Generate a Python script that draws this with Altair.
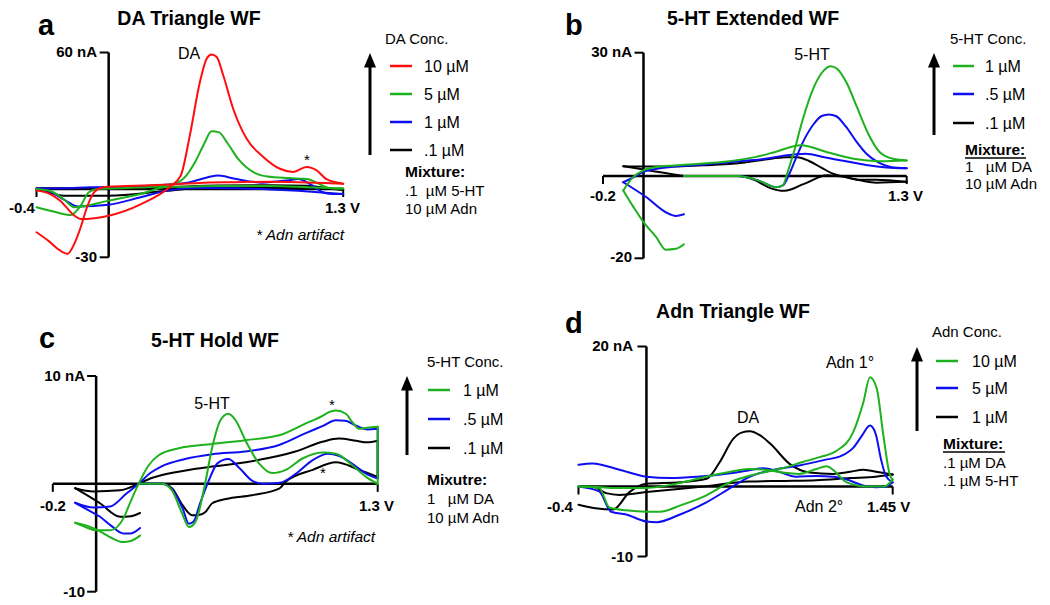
import altair as alt
import pandas as pd

FONT = "Liberation Sans"
RED, GREEN, BLUE, BLACK = "#FF0D0D", "#1DB21D", "#0D0DF2", "#000000"
NB = "\u00a0"

# ---------------- Panel a : DA Triangle WF (V, nA) ----------------
A_RED_V = [-0.40, -0.33, -0.27, -0.19, -0.155, -0.08, 0.00, 0.18, 0.34, 0.40, 0.45, 0.506, 0.543, 0.57, 0.598,
           0.635, 0.69, 0.765, 0.857, 0.949, 1.023, 1.097, 1.153, 1.208, 1.30,
           1.20, 1.05, 0.90, 0.70, 0.50, 0.34, 0.15, 0.00, -0.035, -0.08, -0.12, -0.155, -0.19, -0.229, -0.27, -0.33, -0.40]
A_RED_I = [-0.7, -2.0, -5.0, -11.7, -13.2, -12.8, -11.7, -6.6, 1.0, 6.0, 23.6, 47.1, 57.3, 59.1, 58.1,
           50.0, 35.3, 22.1, 14.1, 8.9, 7.5, 9.7, 8.2, 4.3, 2.3,
           2.6, 3.0, 3.2, 3.0, 2.7, 2.0, 1.4, 1.0, 0.7, -1.4, -8.0, -16.8, -24.0, -28.5, -27.0, -23.0, -19.0]
A_GRN_V = [-0.40, -0.30, -0.21, -0.155, -0.11, -0.06, 0.10, 0.25, 0.35, 0.42, 0.48, 0.53, 0.57, 0.61, 0.66, 0.72,
           0.80, 0.88, 1.00, 1.10, 1.16, 1.22, 1.30,
           1.10, 0.90, 0.60, 0.40, 0.32, 0.177, 0.00, -0.19, -0.25, -0.32, -0.40]
A_GRN_I = [-8.0, -10.0, -11.4, -7.3, -1.4, 0.0, 0.5, 1.0, 2.0, 5.0, 12.0, 20.0, 25.4, 25.0, 20.0, 13.0,
           7.5, 5.5, 4.8, 4.4, 2.5, 0.5, 0.2,
           0.8, 1.3, 1.3, 1.0, 0.9, -2.2, -5.1, -8.0, -4.4, -1.0, 0.0]
A_BLU_V = [-0.40, -0.25, -0.10, 0.10, 0.30, 0.45, 0.55, 0.61, 0.70, 0.85, 1.00, 1.05, 1.12, 1.18, 1.24, 1.30,
           1.20, 1.05, 0.90, 0.70, 0.50, 0.325, 0.177, 0.00, -0.17, -0.25, -0.33, -0.40]
A_BLU_I = [0.2, 0.3, 0.8, 1.0, 1.8, 3.0, 5.2, 5.9, 4.5, 2.8, 3.9, 4.4, 2.0, -1.2, -2.2, -2.2,
           -1.6, -0.8, -0.2, 0.3, 0.4, -0.7, -3.6, -6.9, -7.7, -4.5, -1.0, 0.0]
A_BLK_V = [-0.40, -0.20, 0.00, 0.30, 0.60, 0.90, 1.10, 1.20, 1.30,
           1.10, 0.80, 0.50, 0.30, 0.00, -0.25, -0.33, -0.40]
A_BLK_I = [0.3, 0.3, 0.4, 0.8, 1.5, 1.7, 1.4, 0.5, -0.3,
           0.4, 0.7, 0.4, -1.0, -2.9, -2.9, -1.5, 0.0]

# ---------------- Panel b : 5-HT Extended WF ----------------
B_GRN_V = [0.20, 0.468, 0.566, 0.655, 0.688, 0.712, 0.745, 0.785, 0.842, 0.891, 0.924, 0.956, 1.005, 1.054,
           1.11, 1.167, 1.233, 1.30,
           1.167, 1.037, 0.907, 0.777, 0.647, 0.55, 0.387, 0.224, 0.062, 0.00, -0.05, -0.10,
           -0.05, 0.00, 0.062, 0.11, 0.16, 0.20]
B_GRN_I = [0.0, 0.0, -1.05, -2.7, -2.3, 1.0, 6.2, 13.5, 21.7, 25.7, 26.7, 26.1, 22.5, 16.8,
           10.3, 5.8, 4.2, 3.8,
           3.6, 4.2, 5.8, 7.5, 5.8, 4.6, 3.4, 2.8, 2.2, 1.4, -0.2, -3.5,
           -7.5, -11.2, -14.8, -17.9, -17.7, -16.6]
B_BLU_V = [0.20, 0.468, 0.566, 0.655, 0.69, 0.72, 0.75, 0.79, 0.84, 0.88, 0.915, 0.95, 1.00, 1.05, 1.10,
           1.16, 1.22, 1.30,
           1.20, 1.10, 1.00, 0.90, 0.80, 0.70, 0.60, 0.50, 0.30, 0.10, 0.00, -0.05, -0.10,
           0.013, 0.11, 0.16, 0.20]
B_BLU_I = [0.0, 0.0, -1.05, -2.7, -2.2, 0.5, 4.0, 8.5, 12.6, 14.6, 15.0, 14.6, 12.0, 8.5, 5.5,
           3.3, 2.2, 1.9,
           2.1, 2.7, 3.6, 4.5, 5.4, 5.0, 4.2, 3.7, 2.8, 2.0, 1.0, -0.3, -1.5,
           -5.1, -8.8, -9.7, -9.3]
B_BLK_V = [0.20, 0.468, 0.55, 0.62, 0.696, 0.793, 0.907, 0.99, 1.07, 1.15, 1.30,
           1.15, 1.07, 0.99, 0.94, 0.88, 0.82, 0.76, 0.70, 0.60, 0.50, 0.30, 0.10, 0.00, -0.10,
           0.00, 0.10, 0.20]
B_BLK_I = [0.0, 0.0, -1.0, -2.8, -3.6, -1.9, 0.2, -0.2, -1.05, -1.6, -1.4,
           -0.9, -0.9, -0.1, 0.5, 2.0, 3.6, 4.6, 4.6, 4.0, 3.3, 2.6, 2.3, 2.3, 2.4,
           1.6, 0.8, 0.0]

# ---------------- Panel c : 5-HT Hold WF ----------------
C_GRN_V = [0.196, 0.304, 0.35, 0.397, 0.428, 0.459, 0.497, 0.536, 0.574, 0.61, 0.644, 0.69, 0.752, 0.814,
           0.875, 0.953, 1.045, 1.107, 1.184, 1.246, 1.30,
           1.30, 1.25, 1.215, 1.18, 1.153, 1.107, 1.07, 1.045, 0.968, 0.845, 0.69, 0.536, 0.381, 0.289,
           0.242, 0.196, 0.16, 0.126, 0.065, 0.00, -0.05, -0.097,
           -0.04, 0.018, 0.07, 0.126, 0.16, 0.203]
C_GRN_I = [0.0, 0.0, -0.6, -2.75, -4.0, -3.5, -0.6, 3.4, 5.9, 6.5, 5.9, 4.0, 1.9, 1.0,
           1.3, 2.35, 2.9, 2.8, 1.7, 0.65, 0.0,
           5.3, 5.2, 5.1, 5.8, 6.5, 6.8, 6.6, 6.3, 5.6, 4.5, 4.05, 3.7, 3.3, 2.65,
           1.7, 0.0, -1.6, -3.2, -4.3, -4.3, -4.0, -3.6,
           -3.9, -4.4, -5.0, -5.4, -5.3, -4.8]
C_BLU_V = [0.196, 0.304, 0.35, 0.40, 0.428, 0.45, 0.48, 0.52, 0.56, 0.61, 0.66, 0.72, 0.77, 0.85, 0.92,
           1.00, 1.07, 1.12, 1.20, 1.25, 1.30,
           1.30, 1.25, 1.20, 1.15, 1.107, 1.05, 0.968, 0.845, 0.69, 0.536, 0.41, 0.30, 0.25, 0.196,
           0.14, 0.065, -0.012, -0.097,
           -0.04, 0.018, 0.07, 0.126, 0.16, 0.203]
C_BLU_I = [0.0, 0.0, -0.5, -2.3, -3.7, -3.5, -1.8, 0.3, 1.9, 2.3, 1.5, 0.3, 0.0, 0.1, 0.9,
           2.2, 2.8, 2.6, 1.6, 0.9, 0.5,
           5.1, 5.05, 5.4, 5.85, 5.9, 5.4, 4.7, 3.6, 3.0, 2.75, 2.3, 1.6, 1.0, 0.0,
           -0.9, -2.1, -2.2, -1.75,
           -2.4, -3.05, -3.9, -4.6, -4.6, -4.1]
C_BLK_V = [0.196, 0.304, 0.35, 0.40, 0.443, 0.47, 0.505, 0.536, 0.60, 0.72, 0.845, 0.875, 1.00, 1.107,
           1.215, 1.30,
           1.30, 1.25, 1.20, 1.12, 1.045, 0.92, 0.69, 0.46, 0.30, 0.25, 0.196, 0.111, -0.012, -0.097,
           0.018, 0.111, 0.16, 0.203]
C_BLK_I = [0.0, 0.0, -0.4, -2.0, -2.9, -2.9, -2.6, -1.8, -1.4, -1.05, -0.45, 0.2, 1.3, 2.0,
           1.3, 0.65,
           4.0, 3.85, 4.0, 4.2, 3.9, 3.0, 2.0, 1.4, 0.8, 0.5, 0.0, -0.6, -0.7, -0.4,
           -1.8, -3.05, -3.0, -2.7]

# ---------------- Panel d : Adn Triangle WF ----------------
D_GRN_V = [-0.40, -0.278, -0.218, -0.12, 0.00, 0.08, 0.20, 0.35, 0.50, 0.65, 0.80, 0.92, 1.02, 1.12, 1.218,
           1.277, 1.316, 1.356, 1.395, 1.434, 1.45,
           1.40, 1.30, 1.18, 1.06, 1.00, 0.90, 0.80, 0.70, 0.60, 0.495, 0.35, 0.198, 0.00, -0.20, -0.34, -0.40]
D_GRN_I = [0.0, -0.2, -3.0, -3.4, -3.6, -3.6, -2.7, -1.3, 0.7, 1.8, 2.6, 3.5, 4.2, 5.1, 7.8,
           12.0, 15.6, 14.0, 7.3, 1.6, 1.0,
           0.0, 0.0, 0.6, 2.9, 2.5, 1.8, 2.0, 2.4, 2.5, 2.1, 1.4, 0.5, -0.2, -0.2, 0.0, 0.0]
D_BLU_V = [-0.40, -0.278, -0.208, -0.119, 0.00, 0.06, 0.198, 0.35, 0.495, 0.60, 0.75, 0.90, 1.05, 1.15,
           1.22, 1.27, 1.316, 1.35, 1.38, 1.41, 1.45,
           1.41, 1.35, 1.27, 1.18, 1.10, 1.00, 0.88, 0.78, 0.69, 0.60, 0.495, 0.30, 0.139, 0.00, -0.159,
           -0.318, -0.40]
D_BLU_I = [0.0, -0.7, -3.6, -4.0, -5.0, -5.1, -4.0, -2.3, -0.2, 1.3, 2.4, 3.0, 3.8, 4.4,
           5.6, 7.3, 8.7, 7.5, 4.0, 1.5, 0.6,
           0.0, -0.1, 0.2, 1.0, 1.4, 1.5, 1.4, 2.1, 2.6, 2.3, 1.9, 1.4, 1.2, 1.4, 2.4,
           3.3, 3.1]
D_BLK_V = [-0.40, -0.30, -0.196, -0.10, 0.00, 0.20, 0.354, 0.432, 0.511, 0.56, 0.609, 0.67, 0.73, 0.845,
           0.96, 1.10, 1.20, 1.277, 1.33, 1.45,
           1.35, 1.20, 1.00, 0.80, 0.60, 0.337, 0.00, -0.159, -0.238, -0.318, -0.40]
D_BLK_I = [-2.6, -3.1, -3.3, -0.8, 0.4, 0.6, 1.1, 3.5, 6.8, 7.7, 7.9, 7.3, 6.1, 3.2,
           2.0, 1.8, 2.1, 2.4, 2.2, 1.7,
           1.4, 1.2, 0.9, 0.8, 0.7, 0.0, -0.8, -1.2, -0.95, 0.0, 0.0]

# legends
A_LEG = ["10 µM", "5 µM", "1 µM", ".1 µM"]
B_LEG = ["1 µM", ".5 µM", ".1 µM"]
C_LEG = ["1 µM", ".5 µM", ".1 µM"]
D_LEG = ["10 µM", "5 µM", "1 µM"]

ONE = alt.Data(values=[{"u": 0}])
ARROW = "M-1,1L0,-1.4L1,1Z"


def seg_frame(vs, cs):
    """Split a voltammogram at potential turning points so each piece is monotone in V."""
    rows, seg, k, n = [], 0, 0, len(vs)
    for i in range(n):
        rows.append({"V": vs[i], "I": cs[i], "seg": seg, "k": k})
        k += 1
        if 0 < i < n - 1:
            d1, d2 = vs[i] - vs[i - 1], vs[i + 1] - vs[i]
            if d1 * d2 <= 0:
                seg, k = seg + 1, 0
                rows.append({"V": vs[i], "I": cs[i], "seg": seg, "k": k})
                k += 1
    return pd.DataFrame(rows)


def domain(v1, p1, v2, p2, start, size):
    k = (p2 - p1) / (v2 - v1)
    a = v1 + (start - p1) / k
    b = v1 + (start + size - p1) / k
    return [min(a, b), max(a, b)]


def build(p):
    ox, oy, W, H = p["ox"], p["oy"], p["w"], p["h"]
    xs = alt.Scale(domain=domain(*p["xa"], ox, W), nice=False, zero=False)
    ys = alt.Scale(domain=domain(*p["ya"], oy, H), nice=False, zero=False)

    def X(v):
        return alt.XDatum(v, type="quantitative", scale=xs, axis=None)

    def Y(v):
        return alt.YDatum(v, type="quantitative", scale=ys, axis=None)

    x0, x1 = p["xr"]
    y0, y1 = p["yr"]
    base = alt.Chart(ONE)
    L = [
        base.mark_rule(color=BLACK, strokeWidth=2.5).encode(x=X(x0), x2=alt.X2Datum(x1), y=Y(0)),
        base.mark_rule(color=BLACK, strokeWidth=2.5).encode(x=X(0), y=Y(y0), y2=alt.Y2Datum(y1)),
    ]
    for yv in (y0, y1):
        L.append(base.mark_rule(color=BLACK, strokeWidth=2, x2Offset=-9).encode(
            x=X(0), x2=alt.X2Datum(0), y=Y(yv)))
    for xv in (x0, x1):
        L.append(base.mark_rule(color=BLACK, strokeWidth=2, y2Offset=8).encode(
            x=X(xv), y=Y(0), y2=alt.Y2Datum(0)))
    for vs, cs, col in p["curves"]:
        L.append(alt.Chart(seg_frame(vs, cs)).mark_line(
            interpolate="monotone", color=col, strokeWidth=2, strokeCap="round", strokeJoin="round").encode(
            x=alt.X("V:Q", scale=xs, axis=None), y=alt.Y("I:Q", scale=ys, axis=None),
            detail="seg:N", order="k:Q"))

    def txt(s, x, y, size, weight="normal", align="left", style="normal"):
        return base.mark_text(text=s, font=FONT, fontSize=size, fontWeight=weight, align=align,
                              baseline="alphabetic", fontStyle=style, color=BLACK).encode(
            x=alt.value(x - ox), y=alt.value(y - oy))

    for t in p["texts"]:
        L.append(txt(*t))
    # legend arrow
    ax, tip, bot = p["arrow"]
    L.append(base.mark_rule(color=BLACK, strokeWidth=3).encode(
        x=alt.value(ax - ox), y=alt.value(tip + 10 - oy), y2=alt.value(bot - oy)))
    L.append(base.mark_point(shape=ARROW, size=144, filled=True, color=BLACK, opacity=1, strokeWidth=0).encode(
        x=alt.value(ax - ox), y=alt.value(tip + 8.4 - oy)))
    # legend swatches
    lx1, lx2, ly, tx = p["leg"]
    for (lbl, col, yy) in zip(p["leg_labels"], p["leg_colors"], ly):
        L.append(base.mark_rule(color=col, strokeWidth=2.5).encode(
            x=alt.value(lx1 - ox), x2=alt.value(lx2 - ox), y=alt.value(yy - oy)))
        L.append(txt(lbl, tx, yy + 6, 16))
    for (ux1, ux2, uy) in p.get("underline", []):
        L.append(base.mark_rule(color=BLACK, strokeWidth=1.3).encode(
            x=alt.value(ux1 - ox), x2=alt.value(ux2 - ox), y=alt.value(uy - oy)))
    return alt.layer(*L).properties(width=W, height=H)


TS = 19.5  # title size
PA = dict(ox=8, oy=8, w=512, h=292,
          xa=(-0.4, 36.5, 1.3, 343.2), ya=(60, 52.5, -30, 257.3), xr=(-0.4, 1.3), yr=(-30, 60),
          curves=[(A_BLK_V, A_BLK_I, BLACK), (A_BLU_V, A_BLU_I, BLUE),
                  (A_GRN_V, A_GRN_I, GREEN), (A_RED_V, A_RED_I, RED)],
          texts=[("a", 38, 35, 29, "bold"),
                 ("DA Triangle WF", 189, 25, TS, "bold", "center"),
                 ("60 nA", 97, 57, 15, "bold", "right"),
                 ("-30", 97, 262, 15, "bold", "right"),
                 ("-0.4", 22, 213, 15, "bold", "center"),
                 ("1.3 V", 325, 213, 15, "bold"),
                 ("DA", 189, 59, 16, "normal", "center"),
                 ("*", 307, 165, 15, "normal", "center"),
                 ("* Adn artifact", 256, 240, 15.5, "normal", "left", "italic"),
                 ("DA Conc.", 385, 44, 15),
                 ("Mixture:", 405, 177, 15.5, "bold"),
                 (".1" + NB + NB + "µM 5-HT", 405, 196, 15),
                 ("10 µM Adn", 405, 214, 15)],
          arrow=(370, 53, 155),
          leg=(390, 412, [66, 94, 122, 150], 424),
          leg_labels=A_LEG, leg_colors=[RED, GREEN, BLUE, BLACK])

PB = dict(ox=520, oy=8, w=522, h=292,
          xa=(-0.2, 603, 1.3, 906.7), ya=(30, 52.7, -20, 258.3), xr=(-0.2, 1.3), yr=(-20, 30),
          curves=[(B_BLK_V, B_BLK_I, BLACK), (B_BLU_V, B_BLU_I, BLUE), (B_GRN_V, B_GRN_I, GREEN)],
          texts=[("b", 565, 35, 29, "bold"),
                 ("5-HT Extended WF", 753, 25, TS, "bold", "center"),
                 ("30 nA", 632, 57, 15, "bold", "right"),
                 ("-20", 632, 262, 15, "bold", "right"),
                 ("-0.2", 603, 201, 15, "bold", "center"),
                 ("1.3 V", 888, 201, 15, "bold"),
                 ("5-HT", 812, 60, 16, "normal", "center"),
                 ("5-HT Conc.", 950, 44, 15),
                 ("Mixture:", 965, 155, 15.5, "bold"),
                 ("1" + NB + NB + NB + "µM DA", 965, 172, 15),
                 ("10 µM Adn", 965, 189, 15)],
          arrow=(934, 53, 135),
          leg=(953, 974, [66, 94, 123], 985),
          leg_labels=B_LEG, leg_colors=[GREEN, BLUE, BLACK],
          underline=[(965, 1026, 158)])

PC = dict(ox=8, oy=300, w=512, h=297,
          xa=(-0.2, 52.8, 1.3, 377.7), ya=(10, 376, -10, 591.7), xr=(-0.2, 1.3), yr=(-10, 10),
          curves=[(C_BLK_V, C_BLK_I, BLACK), (C_BLU_V, C_BLU_I, BLUE), (C_GRN_V, C_GRN_I, GREEN)],
          texts=[("c", 39, 348, 29, "bold"),
                 ("5-HT Hold WF", 215, 347, TS, "bold", "center"),
                 ("10 nA", 85, 381, 15, "bold", "right"),
                 ("-10", 85, 597, 15, "bold", "right"),
                 ("-0.2", 53, 511, 15, "bold", "center"),
                 ("1.3 V", 359, 511, 15, "bold"),
                 ("5-HT", 212, 409, 16, "normal", "center"),
                 ("*", 332, 410, 15, "normal", "center"),
                 ("*", 323, 478, 15, "normal", "center"),
                 ("* Adn artifact", 287, 542, 15.5, "normal", "left", "italic"),
                 ("5-HT Conc.", 427, 367, 15),
                 ("Mixutre:", 427, 485, 15.5, "bold"),
                 ("1" + NB + NB + NB + "µM DA", 427, 504, 15),
                 ("10 µM Adn", 427, 523, 15)],
          arrow=(407, 376, 455),
          leg=(428, 450, [390, 419, 448], 463),
          leg_labels=C_LEG, leg_colors=[GREEN, BLUE, BLACK])

PD = dict(ox=520, oy=300, w=522, h=297,
          xa=(-0.4, 578.5, 1.45, 892.7), ya=(20, 346.5, -10, 556.5), xr=(-0.4, 1.45), yr=(-10, 20),
          curves=[(D_BLK_V, D_BLK_I, BLACK), (D_BLU_V, D_BLU_I, BLUE), (D_GRN_V, D_GRN_I, GREEN)],
          texts=[("d", 565, 333, 29, "bold"),
                 ("Adn Triangle WF", 733, 318, TS, "bold", "center"),
                 ("20 nA", 633, 351, 15, "bold", "right"),
                 ("-10", 633, 562, 15, "bold", "right"),
                 ("-0.4", 560, 512, 15, "bold", "center"),
                 ("1.45 V", 867, 512, 15, "bold"),
                 ("Adn 2°", 795, 512, 16),
                 ("DA", 748, 423, 16, "normal", "center"),
                 ("Adn 1°", 850, 368, 16, "normal", "center"),
                 ("Adn Conc.", 932, 337, 15),
                 ("Mixture:", 943, 449, 15.5, "bold"),
                 (".1 µM DA", 943, 468, 15),
                 (".1 µM 5-HT", 943, 486, 15)],
          arrow=(917, 347, 431),
          leg=(936, 958, [361, 388, 417], 972),
          leg_labels=D_LEG, leg_colors=[GREEN, BLUE, BLACK],
          underline=[(943, 1005, 452)])

chart = alt.concat(build(PA), build(PB), build(PC), build(PD), columns=2, spacing=0,
                   bounds="flush").properties(padding=0).configure_view(stroke=None)

chart.save("out.html", embed_options={"renderer": "svg", "actions": False})
